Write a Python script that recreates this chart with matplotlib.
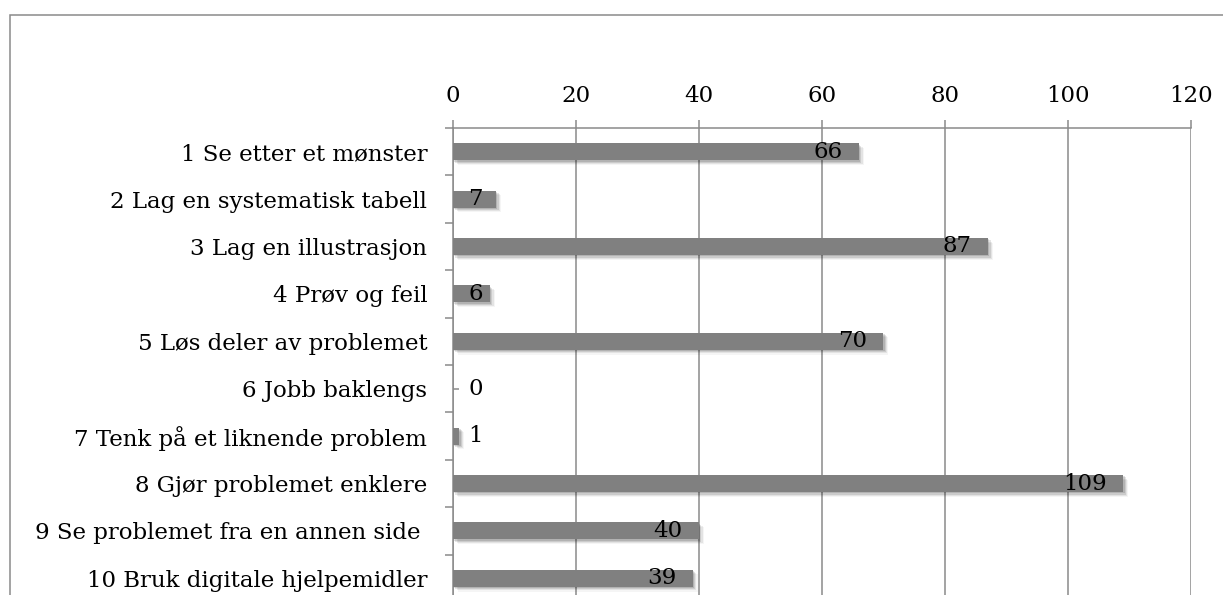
import matplotlib
matplotlib.use("Agg")
import matplotlib.pyplot as plt
import matplotlib.patheffects as pe
from matplotlib.patches import Rectangle
import numpy as np

strategier = [
    "1 Se etter et mønster",
    "2 Lag en systematisk tabell",
    "3 Lag en illustrasjon",
    "4 Prøv og feil",
    "5 Løs deler av problemet",
    "6 Jobb baklengs",
    "7 Tenk på et liknende problem",
    "8 Gjør problemet enklere",
    "9 Se problemet fra en annen side ",
    "10 Bruk digitale hjelpemidler",
]
antall = [66, 7, 87, 6, 70, 0, 1, 109, 40, 39]
x_ticks = [0, 20, 40, 60, 80, 100, 120]

W, H = 1223, 595
FONT = "DejaVu Serif"
FS = 16.5
GREY = "#8a8a8a"
BAR = "#808080"

plt.rcParams["font.family"] = [FONT]

fig = plt.figure(figsize=(W / 100, H / 100), dpi=100)
fig.patch.set_facecolor("white")

# plot area in pixels: x 453..1191, y 128..602 (runs past the bottom edge)
left, right, top, bottom = 453, 1191, 128, 602
ax = fig.add_axes([left / W, (H - bottom) / H, (right - left) / W, (bottom - top) / H])

n = len(strategier)
pos = np.arange(n)

shadow = [
    pe.SimplePatchShadow(offset=(3.4, -3.4), shadow_rgbFace="#000000", alpha=0.04),
    pe.SimplePatchShadow(offset=(2.6, -2.6), shadow_rgbFace="#000000", alpha=0.07),
    pe.SimplePatchShadow(offset=(1.8, -1.8), shadow_rgbFace="#000000", alpha=0.10),
    pe.SimplePatchShadow(offset=(1.0, -1.0), shadow_rgbFace="#000000", alpha=0.12),
    pe.Normal(),
]
bars = ax.barh(pos, antall, height=0.36, color=BAR, zorder=3)
for b in bars:
    b.set_path_effects(shadow)

for p, v in zip(pos, antall):
    ax.text(max(v - 2.7, 4.85), p, str(v), ha="right", va="center",
            fontsize=FS, color="black", zorder=4)

ax.set_xlim(0, 120)
ax.set_ylim(n - 0.5, -0.5)

ax.xaxis.tick_top()
ax.set_xticks(x_ticks)
ax.set_xticklabels([str(t) for t in x_ticks], fontsize=FS)
ax.tick_params(axis="x", which="major", direction="out", length=5.8, width=1.1,
               color=GREY, pad=9)
ax.grid(axis="x", color=GREY, linewidth=1.1, zorder=0)
ax.set_axisbelow(True)

# category boundaries as major ticks, names on the minor ticks
ax.set_yticks(np.arange(-0.5, n, 1.0))
ax.set_yticklabels([])
ax.tick_params(axis="y", which="major", direction="out", length=5.8, width=1.1, color=GREY)
ax.set_yticks(pos, minor=True)
ax.set_yticklabels(strategier, minor=True, fontsize=FS)
ax.tick_params(axis="y", which="minor", direction="in", length=4.3, width=1.1,
               color=GREY, pad=18.5)

for s in ["right", "bottom"]:
    ax.spines[s].set_visible(False)
for s in ["top", "left"]:
    ax.spines[s].set_color(GREY)
    ax.spines[s].set_linewidth(1.1)

# chart frame, cut off at the right and bottom
fig.add_artist(Rectangle((10 / W, -0.2), 2.0, 1.2 - 15 / H, transform=fig.transFigure,
                         fill=False, edgecolor=GREY, linewidth=1.1))

fig.savefig("out.png", dpi=100)
